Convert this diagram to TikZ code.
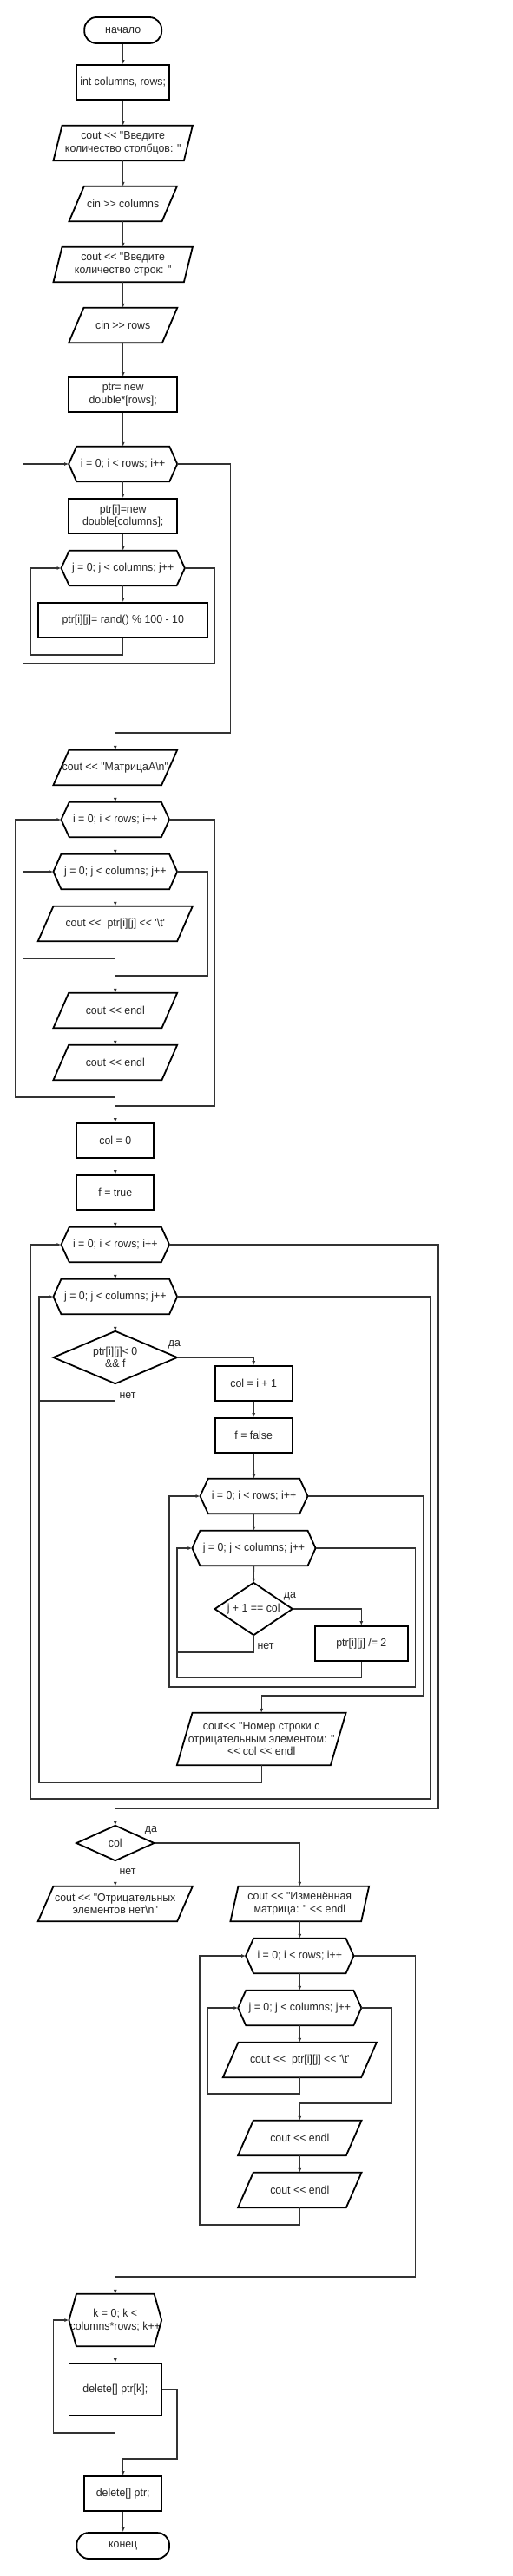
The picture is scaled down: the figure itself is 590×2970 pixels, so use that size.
\documentclass[tikz,border=0pt]{standalone}
\usepackage{fontspec}
\newfontfamily\lfont{Liberation Sans}[FakeStretch=0.95]
\usetikzlibrary{arrows.meta}
\newcommand\hexo[2]{\draw[sh] (#1.west) -- ([xshift=#2]#1.north west) -- ([xshift=-#2]#1.north east) -- (#1.east) -- ([xshift=-#2]#1.south east) -- ([xshift=#2]#1.south west) -- cycle;}
\newcommand\parao[2]{\draw[sh] ([xshift=#2]#1.north west) -- (#1.north east) -- ([xshift=-#2]#1.south east) -- (#1.south west) -- cycle;}
\newcommand\diao[1]{\draw[sh] (#1.west) -- (#1.north) -- (#1.east) -- (#1.south) -- cycle;}
\begin{document}
\begin{tikzpicture}[x=1pt,y=-1pt,
  nd/.style={inner sep=1pt, align=center, text=black!85, font=\lfont\fontsize{13}{14.5}\selectfont},
  bx/.style={nd, draw=black, line width=1.8pt},
  tm/.style={bx, rounded corners=14pt},
  sh/.style={draw=black, line width=1.8pt, line join=miter},
  ln/.style={draw=black!80, line width=1.2pt},
  ar/.style={ln, -{Latex[length=5pt,width=4pt]}},
  lb/.style={nd, inner sep=0pt}]
\fill[white] (0,0) rectangle (590,2970);
\useasboundingbox (0,0) rectangle (590,2970);

% nodes
\node[tm, minimum width=89pt, minimum height=30pt] (start) at (141.7,35) {начало};
\node[bx, minimum width=106.7pt, minimum height=40pt] (decl) at (141.7,95) {int columns, rows;};
\node[nd, minimum width=160pt, minimum height=40pt] (in1) at (141.7,165) {cout << "Введите\\количество столбцов: "};
\node[nd, minimum width=124pt, minimum height=40pt] (in2) at (141.7,235) {cin >> columns};
\node[nd, minimum width=160pt, minimum height=40pt] (out2) at (141.7,305) {cout << "Введите\\количество строк: "};
\node[nd, minimum width=124.7pt, minimum height=40pt] (in3) at (141.7,375) {cin >> rows};
\node[bx, minimum width=124.7pt, minimum height=40pt] (alloc) at (141.7,455) {ptr= new\\double*[rows];};
\node[nd, minimum width=124.7pt, minimum height=40pt] (fi1) at (141.7,535) {i = 0; i < rows; i++};
\node[bx, minimum width=124.7pt, minimum height=40pt] (alloc2) at (141.7,595) {ptr[i]=new\\double[columns];};
\node[nd, minimum width=142pt, minimum height=40pt] (fj1) at (141.7,655) {j = 0; j < columns; j++};
\node[bx, minimum width=195.3pt, minimum height=40pt] (rnd) at (141.7,715) {ptr[i][j]= rand() \% 100 - 10};

\node[nd, minimum width=142.3pt, minimum height=40pt] (outA) at (132.8,885) {cout << "МатрицаA\textbackslash n"};
\node[nd, minimum width=124.3pt, minimum height=40pt] (fi2) at (132.8,945) {i = 0; i < rows; i++};
\node[nd, minimum width=142.3pt, minimum height=40pt] (fj2) at (132.8,1005) {j = 0; j < columns; j++};
\node[nd, minimum width=177.7pt, minimum height=40pt] (pr1) at (132.8,1065) {cout <<\ \ ptr[i][j] << '\textbackslash t'};
\node[nd, minimum width=142.3pt, minimum height=40pt] (endl1) at (132.8,1165) {cout << endl};
\node[nd, minimum width=142.3pt, minimum height=40pt] (endl2) at (132.8,1225) {cout << endl};

\node[bx, minimum width=89pt, minimum height=40pt] (col0) at (132.8,1315) {col = 0};
\node[bx, minimum width=89pt, minimum height=40pt] (ftrue) at (132.8,1375) {f = true};
\node[nd, minimum width=124.3pt, minimum height=40pt] (fi3) at (132.8,1435) {i = 0; i < rows; i++};
\node[nd, minimum width=142.3pt, minimum height=40pt] (fj3) at (132.8,1495) {j = 0; j < columns; j++};
\node[nd, minimum width=142.3pt, minimum height=60pt] (cond1) at (132.8,1565) {ptr[i][j]< 0\\\&\& f};
\node[bx, minimum width=89pt, minimum height=40pt] (c1) at (292.2,1595) {col = i + 1};
\node[bx, minimum width=89pt, minimum height=40pt] (ffalse) at (292.2,1655) {f = false};
\node[nd, minimum width=123.6pt, minimum height=40pt] (fi4) at (292.5,1725) {i = 0; i < rows; i++};
\node[nd, minimum width=141.7pt, minimum height=40pt] (fj4) at (292.5,1785) {j = 0; j < columns; j++};
\node[nd, minimum width=89pt, minimum height=60pt] (cond2) at (292.2,1855) {j + 1 == col};
\node[bx, minimum width=107.3pt, minimum height=40pt] (div) at (416.3,1895) {ptr[i][j] /= 2};
\node[nd, minimum width=194.3pt, minimum height=60pt] (outN) at (301.2,2005) {cout<< "Номер строки с\\отрицательным элементом: "\\<< col << endl};

\node[nd, minimum width=89pt, minimum height=40pt] (cond3) at (132.8,2125) {col};
\node[nd, minimum width=177.7pt, minimum height=40pt] (none) at (132.8,2195) {cout << "Отрицательных\\элементов нет\textbackslash n"};
\node[nd, minimum width=159.3pt, minimum height=40pt] (outM) at (345.3,2195) {cout << "Изменённая\\матрица: " << endl};
\node[nd, minimum width=124pt, minimum height=40pt] (fi5) at (345.3,2255) {i = 0; i < rows; i++};
\node[nd, minimum width=141.7pt, minimum height=40pt] (fj5) at (345.3,2315) {j = 0; j < columns; j++};
\node[nd, minimum width=176.7pt, minimum height=40pt] (pr2) at (345.3,2375) {cout <<\ \ ptr[i][j] << '\textbackslash t'};
\node[nd, minimum width=142pt, minimum height=40pt] (endl3) at (345.3,2465) {cout << endl};
\node[nd, minimum width=142pt, minimum height=40pt] (endl4) at (345.3,2525) {cout << endl};

\node[nd, minimum width=106pt, minimum height=60pt] (fk) at (132.8,2675) {k = 0; k <\\columns*rows; k++};
\node[bx, minimum width=106.7pt, minimum height=60pt] (del) at (132.8,2755) {delete[] ptr[k];};
\node[bx, minimum width=88.7pt, minimum height=40pt] (delp) at (141.7,2875) {delete[] ptr;};
\node[tm, minimum width=106.7pt, minimum height=30pt] (end) at (141.7,2935) {конец};

% outlines
\parao{in1}{10pt}
\parao{in2}{17.3pt}
\parao{out2}{10pt}
\parao{in3}{17.3pt}
\hexo{fi1}{9pt}
\hexo{fj1}{9.3pt}
\parao{outA}{18pt}
\hexo{fi2}{9.3pt}
\hexo{fj2}{9pt}
\parao{pr1}{17.7pt}
\parao{endl1}{17.7pt}
\parao{endl2}{17.7pt}
\hexo{fi3}{9.3pt}
\hexo{fj3}{9pt}
\diao{cond1}
\hexo{fi4}{9.3pt}
\hexo{fj4}{9pt}
\diao{cond2}
\parao{outN}{17.7pt}
\diao{cond3}
\parao{none}{17.7pt}
\parao{outM}{9pt}
\hexo{fi5}{9pt}
\hexo{fj5}{9pt}
\parao{pr2}{17.7pt}
\parao{endl3}{17.7pt}
\parao{endl4}{17.7pt}
\hexo{fk}{8.5pt}

% connectors
\draw[ar] (start.south) -- (decl.north);
\draw[ar] (decl.south) -- (in1.north);
\draw[ar] (in1.south) -- (in2.north);
\draw[ar] (in2.south) -- (out2.north);
\draw[ar] (out2.south) -- (in3.north);
\draw[ar] (in3.south) -- (alloc.north);
\draw[ar] (alloc.south) -- (fi1.north);
\draw[ar] (fi1.south) -- (alloc2.north);
\draw[ar] (alloc2.south) -- (fj1.north);
\draw[ar] (fj1.south) -- (rnd.north);
\draw[ar] (rnd.south) -- (141.7,755) -- (35.7,755) -- (35.7,655) -- (fj1.west);
\draw[ar] (fj1.east) -- (247.7,655) -- (247.7,765) -- (26.7,765) -- (26.7,535) -- (fi1.west);
\draw[ar] (fi1.east) -- (265.7,535) -- (265.7,845) -- (132.8,845) -- (outA.north);

\draw[ar] (outA.south) -- (fi2.north);
\draw[ar] (fi2.south) -- (fj2.north);
\draw[ar] (fj2.south) -- (pr1.north);
\draw[ar] (pr1.south) -- (132.8,1105) -- (26.7,1105) -- (26.7,1005) -- (fj2.west);
\draw[ar] (fj2.east) -- (239.3,1005) -- (239.3,1125) -- (132.8,1125) -- (endl1.north);
\draw[ar] (endl1.south) -- (endl2.north);
\draw[ar] (endl2.south) -- (132.8,1265) -- (17.3,1265) -- (17.3,945) -- (fi2.west);
\draw[ar] (fi2.east) -- (247.7,945) -- (247.7,1275) -- (132.8,1275) -- (col0.north);

\draw[ar] (col0.south) -- (ftrue.north);
\draw[ar] (ftrue.south) -- (fi3.north);
\draw[ar] (fi3.south) -- (fj3.north);
\draw[ar] (fj3.south) -- (cond1.north);
\draw[ar] (cond1.east) -| (c1.north);
\draw[ln] (cond1.south) -- (132.8,1615) -- (45,1615);
\draw[ar] (c1.south) -- (ffalse.north);
\draw[ar] (ffalse.south) -- (fi4.north);
\draw[ar] (fi4.south) -- (fj4.north);
\draw[ar] (fj4.south) -- (cond2.north);
\draw[ar] (cond2.east) -| (div.north);
\draw[ln] (cond2.south) -- (292.2,1905) -- (204,1905);
\draw[ar] (div.south) -- (416.3,1934) -- (204,1934) -- (204,1785) -- (fj4.west);
\draw[ar] (fj4.east) -- (478.3,1785) -- (478.3,1945) -- (195,1945) -- (195,1725) -- (fi4.west);
\draw[ar] (fi4.east) -- (487.3,1725) -- (487.3,1955) -- (301.2,1955) -- (outN.north);
\draw[ar] (outN.south) -- (301.2,2055) -- (45,2055) -- (45,1495) -- (fj3.west);
\draw[ar] (fj3.east) -- (495.7,1495) -- (495.7,2074) -- (35.7,2074) -- (35.7,1435) -- (fi3.west);
\draw[ar] (fi3.east) -- (505,1435) -- (505,2085) -- (132.8,2085) -- (cond3.north);

\draw[ar] (cond3.east) -| (outM.north);
\draw[ar] (cond3.south) -- (none.north);
\draw[ar] (outM.south) -- (fi5.north);
\draw[ar] (fi5.south) -- (fj5.north);
\draw[ar] (fj5.south) -- (pr2.north);
\draw[ar] (pr2.south) -- (345.3,2414) -- (239.3,2414) -- (239.3,2315) -- (fj5.west);
\draw[ar] (fj5.east) -- (451.7,2315) -- (451.7,2425) -- (345.3,2425) -- (endl3.north);
\draw[ar] (endl3.south) -- (endl4.north);
\draw[ar] (endl4.south) -- (345.3,2565) -- (230,2565) -- (230,2255) -- (fi5.west);
\draw[ln] (fi5.east) -- (478.3,2255) -- (478.3,2625) -- (132.8,2625);
\draw[ar] (none.south) -- (fk.north);
\draw[ar] (fk.south) -- (del.north);
\draw[ar] (del.south) -- (132.8,2805) -- (61.7,2805) -- (61.7,2675) -- (fk.west);
\draw[ar] (del.east) -- (204,2755) -- (204,2835) -- (141.7,2835) -- (delp.north);
\draw[ar] (delp.south) -- (end.north);

% labels
\node[lb] (y1) at (201,1550) {да};
\node[lb] (n1) at (147,1609) {нет};
\node[lb] (y2) at (334,1840) {да};
\node[lb] (n2) at (306,1898) {нет};
\node[lb] (y3) at (174,2110) {да};
\node[lb] (n3) at (147,2158) {нет};
\end{tikzpicture}
\end{document}
